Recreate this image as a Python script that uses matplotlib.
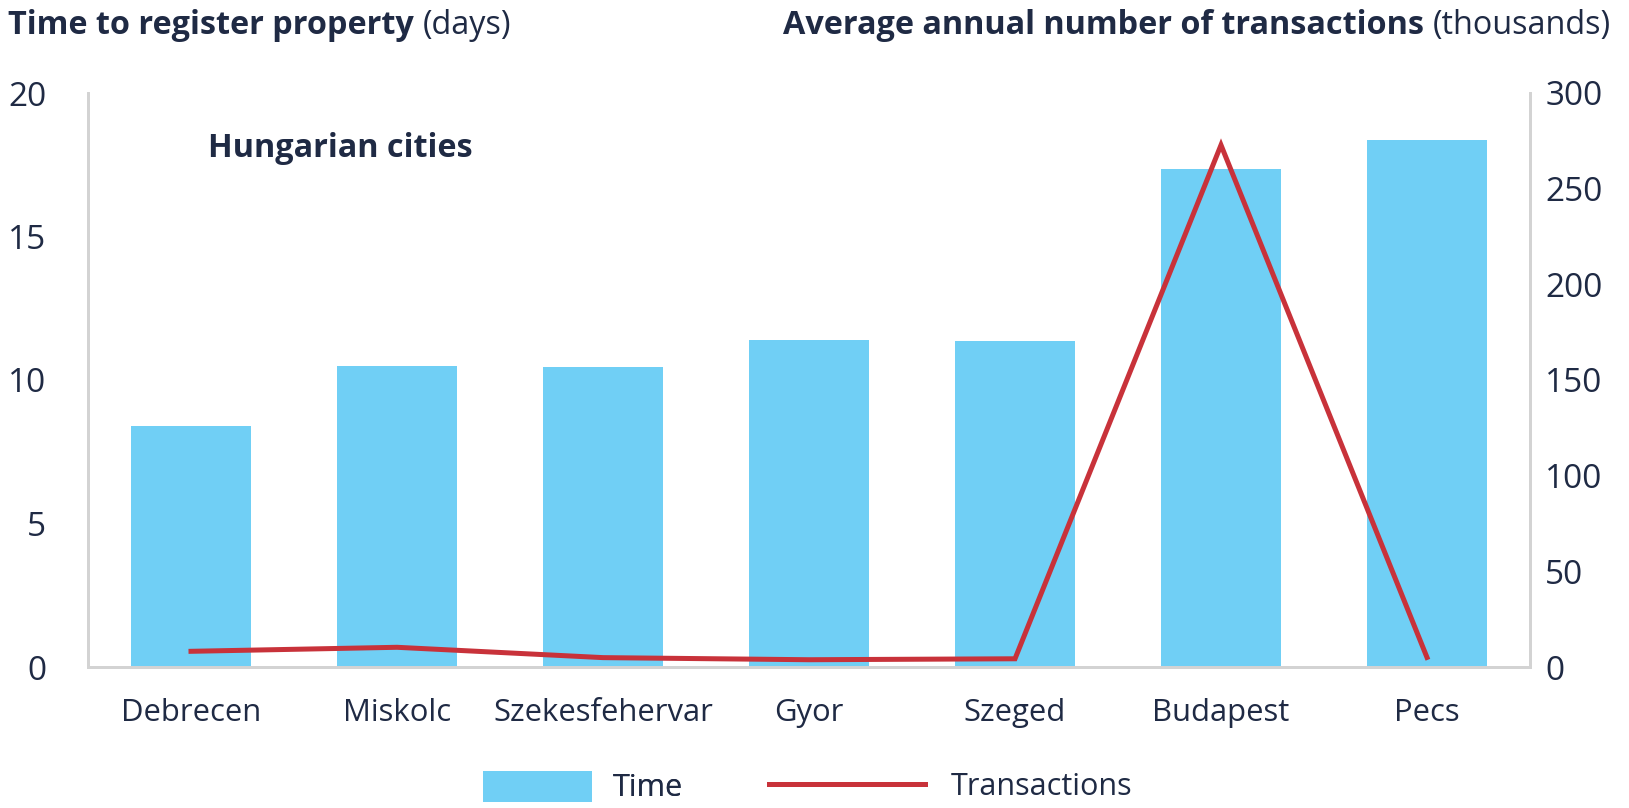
import numpy as np
import matplotlib
matplotlib.use("Agg")
import matplotlib.pyplot as plt
from matplotlib.patches import Patch
from matplotlib.lines import Line2D

# ──────────────────────────────────────────────
# Data
# ──────────────────────────────────────────────
cities = ["Debrecen", "Miskolc", "Szekesfehervar", "Gyor", "Szeged", "Budapest", "Pecs"]
time_days = [8.4, 10.5, 10.45, 11.4, 11.35, 17.35, 18.35]
transactions_k = [8.2, 10.3, 4.9, 3.8, 4.3, 272.8, 5.0]

left_ticks = [0, 5, 10, 15, 20]
right_ticks = [0, 50, 100, 150, 200, 250, 300]

# ──────────────────────────────────────────────
# Style
# ──────────────────────────────────────────────
plt.rcParams.update({
    "font.family": ["Open Sans", "DejaVu Sans"],
    "figure.facecolor": "white",
})

FS_TITLE = 23.3
FS_TICK = 24
FS_CAT = 22.3
FS_LEG = 22

COLORS = {
    "bar": "#70cff5",
    "line": "#c8323a",
    "text": "#1f2a44",
    "spine": "#d3d3d3",
}

W, H = 1629, 808
fig = plt.figure(figsize=(W / 100, H / 100), dpi=100)
ax = fig.add_axes([88 / W, 1 - 667 / H, (1530 - 88) / W, (667 - 93) / H])
ax2 = ax.twinx()

x = np.arange(len(cities))
ax.bar(x, time_days, width=0.58, color=COLORS["bar"], zorder=2)
ax2.plot(x, transactions_k, color=COLORS["line"], linewidth=3.6, zorder=3,
         solid_joinstyle="miter")

ax.set_xlim(-0.5, len(cities) - 0.5)
ax.set_ylim(0, 20)
ax2.set_ylim(0, 300)
ax.set_yticks(left_ticks)
ax2.set_yticks(right_ticks)
ax.set_xticks(x)
ax.set_xticklabels(cities, fontsize=FS_CAT)

for a in (ax, ax2):
    for s in a.spines.values():
        s.set_color(COLORS["spine"])
        s.set_linewidth(2)
    a.spines["top"].set_visible(False)
    a.tick_params(length=0, colors=COLORS["text"])
ax.tick_params(axis="y", pad=30, labelsize=FS_TICK)
ax2.tick_params(axis="y", pad=11, labelsize=FS_TICK)
ax.tick_params(axis="x", pad=22)

# ──────────────────────────────────────────────
# Titles (bold part + regular unit)
# ──────────────────────────────────────────────
fig.canvas.draw()
r = fig.canvas.get_renderer()
TITLE_Y = 1 - 34 / H

t1 = fig.text(8 / W, TITLE_Y, "Time to register property", fontweight="bold",
              color=COLORS["text"], fontsize=FS_TITLE, va="baseline", ha="left")
bb = t1.get_window_extent(r)
fig.text((bb.x1 + 9) / W, TITLE_Y, "(days)", color=COLORS["text"],
         fontsize=FS_TITLE, va="baseline", ha="left")

t2 = fig.text(1611 / W, TITLE_Y, "(thousands)", color=COLORS["text"],
              fontsize=FS_TITLE, va="baseline", ha="right")
bb = t2.get_window_extent(r)
fig.text((bb.x0 - 9) / W, TITLE_Y, "Average annual number of transactions",
         fontweight="bold", color=COLORS["text"], fontsize=FS_TITLE,
         va="baseline", ha="right")

ax.text(0.083, 0.904, "Hungarian cities", transform=ax.transAxes, fontweight="bold",
        color=COLORS["text"], fontsize=FS_TITLE, va="center", ha="left")

# ──────────────────────────────────────────────
# Legend (two separate entries so handle sizes differ)
# ──────────────────────────────────────────────
px = 0.72 / FS_LEG  # pixels -> font-size units
LEG_Y = 1 - 787 / H

leg1 = fig.legend(handles=[Patch(facecolor=COLORS["bar"], label="Time")],
                  loc="center left", bbox_to_anchor=(483 / W, LEG_Y),
                  frameon=False, borderpad=0, borderaxespad=0,
                  handlelength=109 * px, handleheight=36 * px,
                  handletextpad=21 * px,
                  labelcolor=COLORS["text"], fontsize=FS_LEG)
fig.add_artist(leg1)
fig.legend(handles=[Line2D([], [], color=COLORS["line"], linewidth=3.6, label="Transactions")],
           loc="center left", bbox_to_anchor=(769 / W, LEG_Y),
           frameon=False, borderpad=0, borderaxespad=0,
           handlelength=156 * px, handletextpad=26 * px,
           labelcolor=COLORS["text"], fontsize=FS_LEG)

fig.savefig("out.png", dpi=100)
